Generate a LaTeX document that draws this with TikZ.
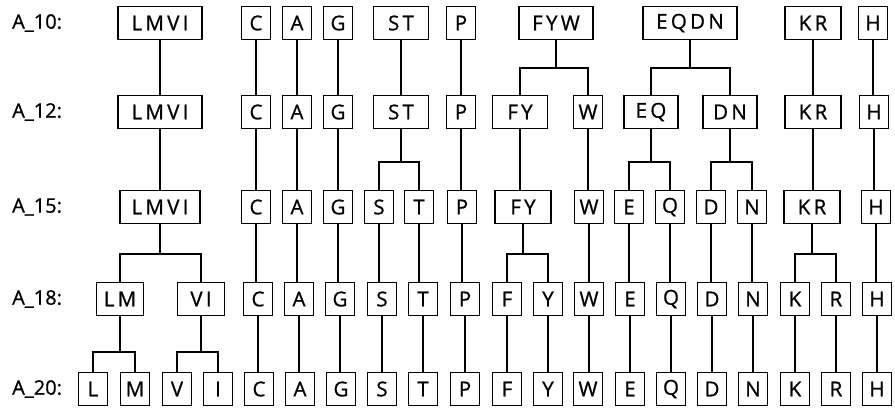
\documentclass[tikz,border=0pt]{standalone}
\usepackage{fontspec}
\setmainfont[FakeBold=0.8]{Open Sans}
\newfontfamily\boxfont[LetterSpace=16,FakeBold=0.8]{Open Sans}
\newcommand\vconn[2]{\draw[ln] (#1.south) -- (#1.south |- #2.north);}
\newcommand\splitconn[4]{\draw[ln] (#1.south) -- (#1.south |- #4); \draw[ln] (#2.north) |- (#1.south |- #4) -| (#3.north);}
\begin{document}
\begin{tikzpicture}[x=1pt,y=-1pt,
  bx/.style={draw, line width=1.6pt, minimum height=33pt, minimum width=29pt, inner sep=0pt, font=\boxfont\fontsize{20.5}{20.5}\selectfont},
  lab/.style={anchor=west, inner sep=0pt, font=\fontsize{20}{20}\selectfont},
  ln/.style={line width=1.5pt}]
\useasboundingbox (0,0) rectangle (895,410);
\coordinate (b1) at (0,68);
\coordinate (b2) at (0,162);
\coordinate (b3) at (0,254);
\coordinate (b4) at (0,352);
% labels
\node[lab] (l1) at (12,23) {A\_10:};
\node[lab] (l2) at (12,112) {A\_12:};
\node[lab] (l3) at (12,207) {A\_15:};
\node[lab] (l4) at (12,299) {A\_18:};
\node[lab] (l5) at (12,389) {A\_20:};
% row 1
\node[bx,minimum width=84pt] (aLMVI) at (160,23) {LMVI};
\node[bx] (aC) at (256,23) {C};
\node[bx] (aA) at (297,23) {A};
\node[bx] (aG) at (338,23) {G};
\node[bx,minimum width=55pt] (aST) at (401,23) {ST};
\node[bx] (aP) at (461,23) {P};
\node[bx,minimum width=74pt] (aFYW) at (556,23) {FYW};
\node[bx,minimum width=94pt] (aEQDN) at (690,23) {EQDN};
\node[bx,minimum width=56pt] (aKR) at (813,23) {KR};
\node[bx] (aH) at (873,23) {H};
% row 2
\node[bx,minimum width=84pt] (bLMVI) at (160,112) {LMVI};
\node[bx] (bC) at (256,112) {C};
\node[bx] (bA) at (297,112) {A};
\node[bx] (bG) at (338,112) {G};
\node[bx,minimum width=55pt] (bST) at (401,112) {ST};
\node[bx] (bP) at (461,112) {P};
\node[bx,minimum width=55pt] (bFY) at (520,112) {FY};
\node[bx] (bW) at (588,112) {W};
\node[bx,minimum width=54pt] (bEQ) at (651,112) {EQ};
\node[bx,minimum width=54pt] (bDN) at (730,112) {DN};
\node[bx,minimum width=56pt] (bKR) at (813,112) {KR};
\node[bx] (bH) at (874,112) {H};
% row 3
\node[bx,minimum width=80pt] (cLMVI) at (160,207) {LMVI};
\node[bx] (cC) at (256,207) {C};
\node[bx] (cA) at (297,207) {A};
\node[bx] (cG) at (338,207) {G};
\node[bx] (cS) at (379,207) {S};
\node[bx] (cT) at (419,207) {T};
\node[bx] (cP) at (462,207) {P};
\node[bx,minimum width=56pt] (cFY) at (523,207) {FY};
\node[bx] (cW) at (589,207) {W};
\node[bx] (cE) at (629,207) {E};
\node[bx] (cQ) at (670,207) {Q};
\node[bx] (cD) at (711,207) {D};
\node[bx] (cN) at (752,207) {N};
\node[bx,minimum width=56pt] (cKR) at (812,207) {KR};
\node[bx] (cH) at (876,207) {H};
% row 4
\node[bx,minimum width=47pt] (dLM) at (120,299) {LM};
\node[bx,minimum width=47pt] (dVI) at (201,299) {VI};
\node[bx] (dC) at (258,299) {C};
\node[bx] (dA) at (299,299) {A};
\node[bx] (dG) at (340,299) {G};
\node[bx] (dS) at (382,299) {S};
\node[bx] (dT) at (423,299) {T};
\node[bx] (dP) at (465,299) {P};
\node[bx] (dF) at (507,299) {F};
\node[bx] (dY) at (548,299) {Y};
\node[bx] (dW) at (589,299) {W};
\node[bx] (dE) at (630,299) {E};
\node[bx] (dQ) at (671,299) {Q};
\node[bx] (dD) at (712,299) {D};
\node[bx] (dN) at (753,299) {N};
\node[bx] (dK) at (795,299) {K};
\node[bx] (dR) at (836,299) {R};
\node[bx] (dH) at (877,299) {H};
% row 5
\node[bx] (eL) at (93,389) {L};
\node[bx] (eM) at (135,389) {M};
\node[bx] (eV) at (177,389) {V};
\node[bx] (eI) at (218,389) {I};
\node[bx] (eC) at (259,389) {C};
\node[bx] (eA) at (300,389) {A};
\node[bx] (eG) at (341,389) {G};
\node[bx] (eS) at (382,389) {S};
\node[bx] (eT) at (423,389) {T};
\node[bx] (eP) at (465,389) {P};
\node[bx] (eF) at (507,389) {F};
\node[bx] (eY) at (548,389) {Y};
\node[bx] (eW) at (588,389) {W};
\node[bx] (eE) at (630,389) {E};
\node[bx] (eQ) at (671,389) {Q};
\node[bx] (eD) at (712,389) {D};
\node[bx] (eN) at (753,389) {N};
\node[bx] (eK) at (795,389) {K};
\node[bx] (eR) at (836,389) {R};
\node[bx] (eH) at (877,389) {H};
% connections row1 -> row2
\vconn{aLMVI}{bLMVI}
\vconn{aC}{bC}
\vconn{aA}{bA}
\vconn{aG}{bG}
\vconn{aST}{bST}
\vconn{aP}{bP}
\splitconn{aFYW}{bFY}{bW}{b1}
\splitconn{aEQDN}{bEQ}{bDN}{b1}
\vconn{aKR}{bKR}
\vconn{aH}{bH}
% row2 -> row3
\vconn{bLMVI}{cLMVI}
\vconn{bC}{cC}
\vconn{bA}{cA}
\vconn{bG}{cG}
\splitconn{bST}{cS}{cT}{b2}
\vconn{bP}{cP}
\vconn{bFY}{cFY}
\vconn{bW}{cW}
\splitconn{bEQ}{cE}{cQ}{b2}
\splitconn{bDN}{cD}{cN}{b2}
\vconn{bKR}{cKR}
\vconn{bH}{cH}
% row3 -> row4
\splitconn{cLMVI}{dLM}{dVI}{b3}
\vconn{cC}{dC}
\vconn{cA}{dA}
\vconn{cG}{dG}
\vconn{cS}{dS}
\vconn{cT}{dT}
\vconn{cP}{dP}
\splitconn{cFY}{dF}{dY}{b3}
\vconn{cW}{dW}
\vconn{cE}{dE}
\vconn{cQ}{dQ}
\vconn{cD}{dD}
\vconn{cN}{dN}
\splitconn{cKR}{dK}{dR}{b3}
\vconn{cH}{dH}
% row4 -> row5
\splitconn{dLM}{eL}{eM}{b4}
\splitconn{dVI}{eV}{eI}{b4}
\vconn{dC}{eC}
\vconn{dA}{eA}
\vconn{dG}{eG}
\vconn{dS}{eS}
\vconn{dT}{eT}
\vconn{dP}{eP}
\vconn{dF}{eF}
\vconn{dY}{eY}
\vconn{dW}{eW}
\vconn{dE}{eE}
\vconn{dQ}{eQ}
\vconn{dD}{eD}
\vconn{dN}{eN}
\vconn{dK}{eK}
\vconn{dR}{eR}
\vconn{dH}{eH}
\end{tikzpicture}
\end{document}
